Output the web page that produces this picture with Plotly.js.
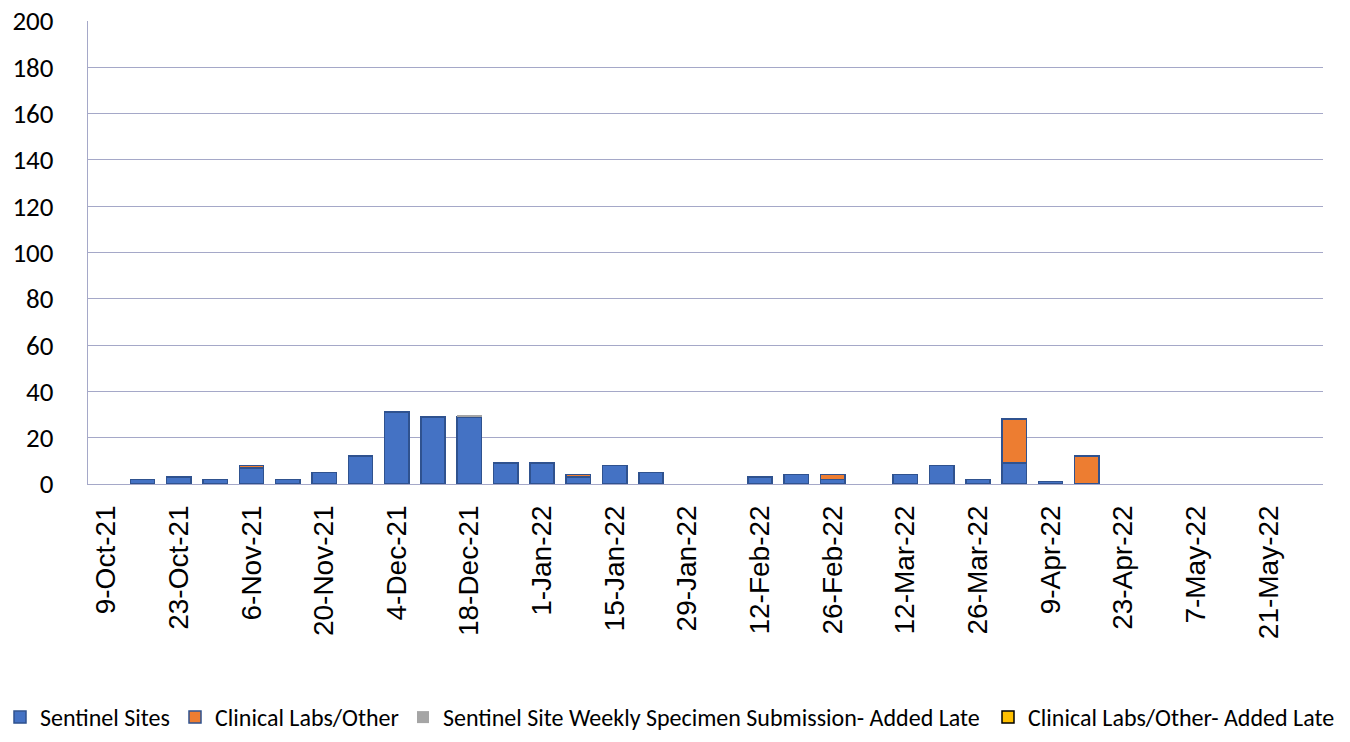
<!DOCTYPE html>
<html>
<head>
<meta charset="utf-8">
<script src="https://cdn.plot.ly/plotly-3.0.1.min.js"></script>
<style>
html,body{margin:0;padding:0;background:#fff;}
#chart{width:1350px;height:742px;}
</style>
</head>
<body>
<div id="chart"></div>
<script>
const weeks = ["9-Oct-21","16-Oct-21","23-Oct-21","30-Oct-21","6-Nov-21","13-Nov-21","20-Nov-21","27-Nov-21",
  "4-Dec-21","11-Dec-21","18-Dec-21","25-Dec-21","1-Jan-22","8-Jan-22","15-Jan-22","22-Jan-22","29-Jan-22",
  "5-Feb-22","12-Feb-22","19-Feb-22","26-Feb-22","5-Mar-22","12-Mar-22","19-Mar-22","26-Mar-22","2-Apr-22",
  "9-Apr-22","16-Apr-22","23-Apr-22","30-Apr-22","7-May-22","14-May-22","21-May-22","28-May-22"];
const tickLabels = ["9-Oct-21","23-Oct-21","6-Nov-21","20-Nov-21","4-Dec-21","18-Dec-21","1-Jan-22","15-Jan-22",
  "29-Jan-22","12-Feb-22","26-Feb-22","12-Mar-22","26-Mar-22","9-Apr-22","23-Apr-22","7-May-22","21-May-22"];
const sentinelSites = [0,2,3,2,7,2,5,12,31,29,29,9,9,3,8,5,0,0,3,4,2,0,4,8,2,9,1,0,0,0,0,0,0,0];
const clinicalLabs  = [0,0,0,0,1,0,0,0,0,0,0,0,0,1,0,0,0,0,0,0,2,0,0,0,0,19,0,12,0,0,0,0,0,0];
const sentinelLate  = [0,0,0,0,0,0,0,0,0,0,1,0,0,0,0,0,0,0,0,0,0,0,0,0,0,0,0,0,0,0,0,0,0,0];
const clinicalLate  = [0,0,0,0,0,0,0,0,0,0,0,0,0,0,0,0,0,0,0,0,0,0,0,0,0,0,0,0,0,0,0,0,0,0];
const seriesNames = ["Sentinel Sites","Clinical Labs/Other","Sentinel Site Weekly Specimen Submission- Added Late","Clinical Labs/Other- Added Late"];

const calib = "Carlito, Lato, 'Liberation Sans', sans-serif";
const arial = "'Liberation Sans', Arial, sans-serif";
const legendIds = ["legend", "legend2", "legend3", "legend4"];
const traces = [
  {name: seriesNames[0], y: sentinelSites, color: "#4472C4", line: {color: "#2F528F", width: 1.5}},
  {name: seriesNames[1], y: clinicalLabs, color: "#ED7D31", line: {color: "#2F528F", width: 1.5}},
  {name: seriesNames[2], y: sentinelLate, color: "#A5A5A5", line: {color: "#A5A5A5", width: 0}},
  {name: seriesNames[3], y: clinicalLate, color: "#FFC000", line: {color: "#000000", width: 1.5}}
].map((s, i) => ({
  type: "bar", x: weeks, y: s.y.map(v => v === 0 ? null : v), name: s.name,
  marker: {color: s.color, line: s.line},
  legend: legendIds[i],
  hoverinfo: "x+y+name"
}));

// left edge of each legend entry's text, in page pixels
const legendTextX = [38, 215, 443, 1028];
function legendAt(px) {
  return {
    orientation: "h", xref: "container", yref: "container",
    x: (px - 40) / 1350, xanchor: "left", y: 2 / 742, yanchor: "bottom",
    font: {size: 24, family: calib}, itemwidth: 30,
    bgcolor: "rgba(0,0,0,0)", borderwidth: 0
  };
}

const layout = {
  width: 1350, height: 742,
  margin: {l: 88, r: 27, t: 21, b: 258, autoexpand: false},
  paper_bgcolor: "#fff", plot_bgcolor: "#fff",
  barmode: "stack", bargap: 0.33,
  font: {family: calib, color: "#000"},
  xaxis: {
    type: "category", automargin: false,
    tickmode: "array", tickvals: tickLabels, ticktext: tickLabels,
    tickangle: -90, tickfont: {size: 28, family: arial},
    showgrid: false, showline: true, linecolor: "#A5A8C8", linewidth: 1.3,
    ticks: "outside", ticklen: 9, tickcolor: "rgba(0,0,0,0)",
    range: [-0.5, 33.5]
  },
  yaxis: {
    range: [0, 200], dtick: 20, tickmode: "linear", tick0: 0, automargin: false,
    tickfont: {size: 27, family: calib},
    showgrid: true, gridcolor: "#A5A8C8", gridwidth: 1.3,
    showline: true, linecolor: "#A5A8C8", linewidth: 1.3,
    zeroline: false,
    ticks: "outside", ticklen: 28, tickcolor: "rgba(0,0,0,0)"
  },
  showlegend: true,
  legend: legendAt(legendTextX[0]),
  legend2: legendAt(legendTextX[1]),
  legend3: legendAt(legendTextX[2]),
  legend4: legendAt(legendTextX[3])
};

Plotly.newPlot("chart", traces, layout, {displayModeBar: false});
</script>
</body>
</html>
